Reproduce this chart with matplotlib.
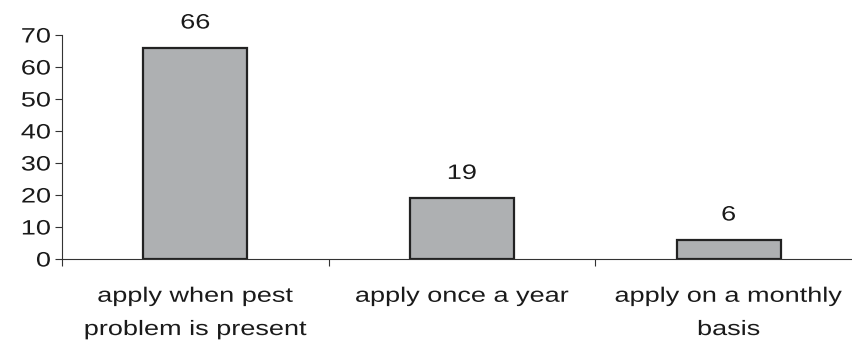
import matplotlib.pyplot as plt
from matplotlib.patheffects import AbstractPathEffect
from matplotlib.ticker import FixedLocator
from matplotlib.transforms import Affine2D

plt.rcParams['font.family'] = ['Liberation Sans', 'DejaVu Sans']

categories = ["apply when pest\nproblem is present", "apply once a year", "apply on a monthly\nbasis"]
values = [66, 19, 6]


class Widen(AbstractPathEffect):
    """Stretch text horizontally about its centre (or right edge)."""

    def __init__(self, sx=1.3, anchor='center'):
        super().__init__()
        self.sx = sx
        self.anchor = anchor

    def draw_path(self, renderer, gc, tpath, affine, rgbFace=None):
        ext = tpath.get_extents(affine)
        x0 = ext.x1 if self.anchor == 'right' else (ext.x0 + ext.x1) / 2
        stretch = Affine2D().translate(-x0, 0).scale(self.sx, 1).translate(x0, 0)
        renderer.draw_path(gc, tpath, affine + stretch, rgbFace)


wide_c = [Widen(1.3, 'center')]
wide_r = [Widen(1.3, 'right')]

fig = plt.figure(figsize=(8.53, 3.41), dpi=100)
# axis runs slightly past the right edge of the figure
ax = fig.add_axes([62 / 853, 82 / 341, 800 / 853, 224 / 341])

pos = [i + 0.5 for i in range(len(values))]
bars = ax.bar(pos, values, width=0.39, color='#aeb0b2', edgecolor='#222222', linewidth=1.6)
for t in ax.bar_label(bars, labels=[str(v) for v in values], padding=11, fontsize=15, color='#1a1a1a'):
    t.set_path_effects(wide_c)

ax.set_xlim(0, len(values))
ax.set_ylim(0, 70)
ax.set_yticks(range(0, 71, 10))
ax.set_xticks(pos)
ax.set_xticklabels(categories, fontsize=15, color='#1a1a1a', linespacing=1.95)
ax.xaxis.set_minor_locator(FixedLocator(range(len(values) + 1)))
ax.tick_params(axis='x', which='major', length=0, pad=20)
ax.tick_params(axis='x', which='minor', length=5, width=0.8, color='#333333', direction='out')
ax.tick_params(axis='y', length=5, width=0.8, color='#333333', pad=3, labelsize=15, labelcolor='#1a1a1a')

for t in ax.get_xticklabels():
    t.set_path_effects(wide_c)
for t in ax.get_yticklabels():
    t.set_path_effects(wide_r)

for side in ['top', 'right']:
    ax.spines[side].set_visible(False)
for side in ['left', 'bottom']:
    ax.spines[side].set_linewidth(0.8)
    ax.spines[side].set_color('#333333')

fig.savefig('out.png', dpi=100)
